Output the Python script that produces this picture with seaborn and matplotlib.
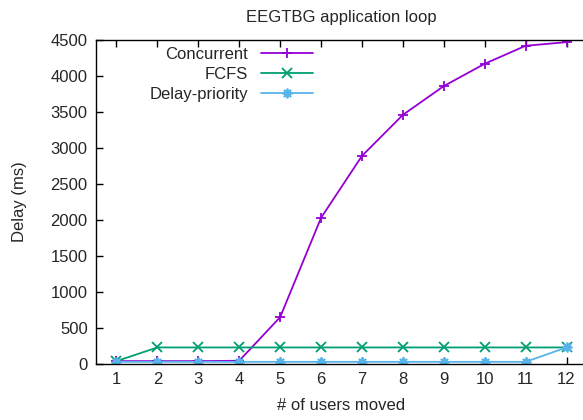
import matplotlib
matplotlib.use("Agg")
import matplotlib.pyplot as plt
import seaborn as sns
import pandas as pd

users = [1, 2, 3, 4, 5, 6, 7, 8, 9, 10, 11, 12]
concurrent = [40, 40, 40, 45, 650, 2030, 2890, 3460, 3860, 4170, 4420, 4470]
fcfs = [40, 230, 230, 230, 230, 230, 230, 230, 230, 230, 230, 230]
delay_priority = [30, 30, 30, 30, 30, 30, 30, 30, 30, 30, 30, 230]
series_names = ["Concurrent", "FCFS", "Delay-priority"]
y_ticks = [0, 500, 1000, 1500, 2000, 2500, 3000, 3500, 4000, 4500]

df = pd.DataFrame({
    "users": users * 3,
    "delay": concurrent + fcfs + delay_priority,
    "series": [series_names[0]] * 12 + [series_names[1]] * 12 + [series_names[2]] * 12,
})

sns.set_style("white")
plt.rcParams["font.family"] = ["Liberation Sans", "DejaVu Sans"]

fig = plt.figure(figsize=(5.83, 4.2), dpi=100)
ax = fig.add_axes([96 / 583, 56 / 420, 491 / 583, 324 / 420])

palette = {"Concurrent": "#9400D3", "FCFS": "#009E73", "Delay-priority": "#56B4E9"}
markers = {"Concurrent": "+", "FCFS": "x", "Delay-priority": (8, 2, 0)}
msize = 7
sns.lineplot(data=df, x="users", y="delay", hue="series", style="series",
             palette=palette, markers=markers, dashes=False, ax=ax,
             linewidth=1.3, markersize=msize, markeredgewidth=1.3, legend=False)

handles = []
for line in ax.lines:
    line.set_markeredgecolor(line.get_color())
    line.set_markerfacecolor(line.get_color())
for name in series_names:
    h, = ax.plot([], [], color=palette[name], marker=markers[name], markersize=msize,
                 markeredgewidth=1.3, linewidth=1.3, label=name)
    handles.append(h)

ax.set_xlim(0.5, 12.5)
ax.set_ylim(0, 4500)
ax.set_xticks(users)
ax.set_yticks(y_ticks)
ax.tick_params(direction="in", length=5, width=1, labelsize=12, color="black",
               top=True, right=False, bottom=True, left=True, pad=6)
for s in ["left", "bottom", "top"]:
    ax.spines[s].set_color("black")
    ax.spines[s].set_linewidth(1)
ax.spines["right"].set_visible(False)

ax.set_xlabel("# of users moved", fontsize=12, labelpad=8)
ax.set_ylabel("Delay (ms)", fontsize=12, labelpad=17)
ax.set_title("EEGTBG application loop", fontsize=12, pad=13)

leg = ax.legend(handles=handles, loc="upper left", bbox_to_anchor=(0.095, 1.0), frameon=False,
                markerfirst=False, fontsize=12, handlelength=3.1,
                handletextpad=0.8, labelspacing=0.3, borderaxespad=0.0)
for t in leg.get_texts():
    t.set_ha("right")

fig.savefig("out.png", dpi=100)
